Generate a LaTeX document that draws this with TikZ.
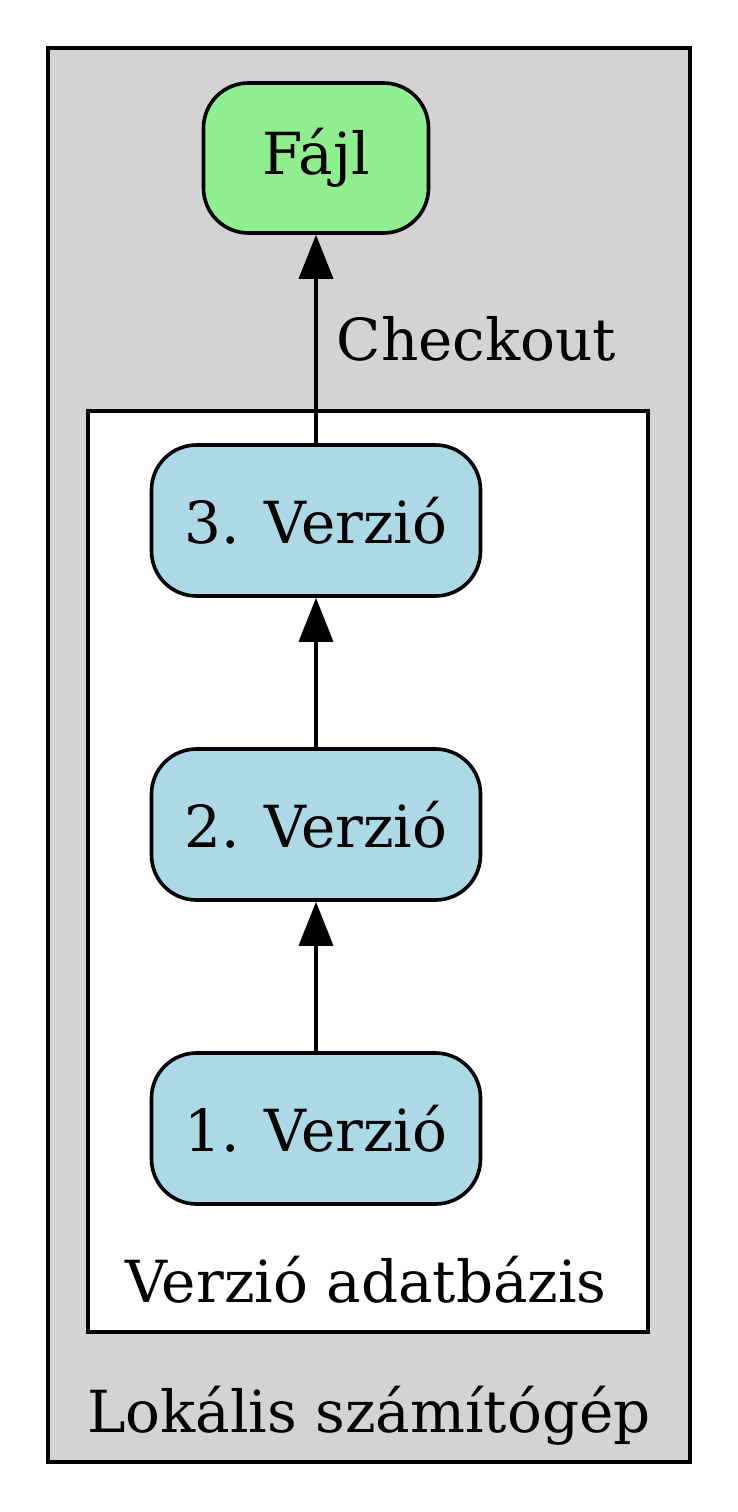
\documentclass[tikz,border=0pt]{standalone}
\usepackage{fontspec}
\setmainfont{DejaVu Serif}
\usepackage{xcolor}
\usetikzlibrary{positioning}
\usetikzlibrary{arrows.meta}
\definecolor{gvgray}{RGB}{211,211,211}
\definecolor{gvgreen}{RGB}{144,238,144}
\definecolor{gvblue}{RGB}{173,216,230}

\begin{document}
\begin{tikzpicture}[x=1pt, y=-1pt, line width=3.6pt, font=\fontsize{58}{69}\selectfont]
% Define styles
\tikzstyle{cluster} = [rectangle, draw, inner sep=0pt]
\tikzstyle{verbox} = [rectangle, rounded corners=45pt, draw, fill=gvblue, text centered, minimum width=329pt, minimum height=151pt]
\tikzstyle{filebox} = [rectangle, rounded corners=45pt, draw, fill=gvgreen, text centered, minimum width=225pt, minimum height=150pt]
\tikzstyle{edge} = [-{Triangle[length=44pt, width=34pt]}]
\useasboundingbox (0,0) rectangle (737,1512);
% Define clusters
\node[cluster, fill=gvgray, minimum width=642pt, minimum height=1414pt] (local) at (369,755) {};
\node[cluster, fill=white, minimum width=560pt, minimum height=921pt] (db) at (368,871.5) {};
\node[anchor=base, inner sep=0pt] (local_label) at (369,1432) {Lokális számítógép};
\node[anchor=base, inner sep=0pt] (db_label) at (366,1302) {Verzió adatbázis};
% Define nodes
\node[filebox] (file) at (316,158) {Fájl};
\node[verbox] (ver_3) at (316,520.5) {3. Verzió};
\node[verbox] (ver_2) at (316,824.5) {2. Verzió};
\node[verbox] (ver_1) at (316,1128.5) {1. Verzió};

% Connect the nodes
\draw[edge] (ver_1) -- (ver_2);
\draw[edge] (ver_2) -- (ver_3);
\draw[edge] (ver_3) -- node[right=19pt, inner sep=0pt] (checkout) {Checkout} (file);

\end{tikzpicture}
\end{document}
